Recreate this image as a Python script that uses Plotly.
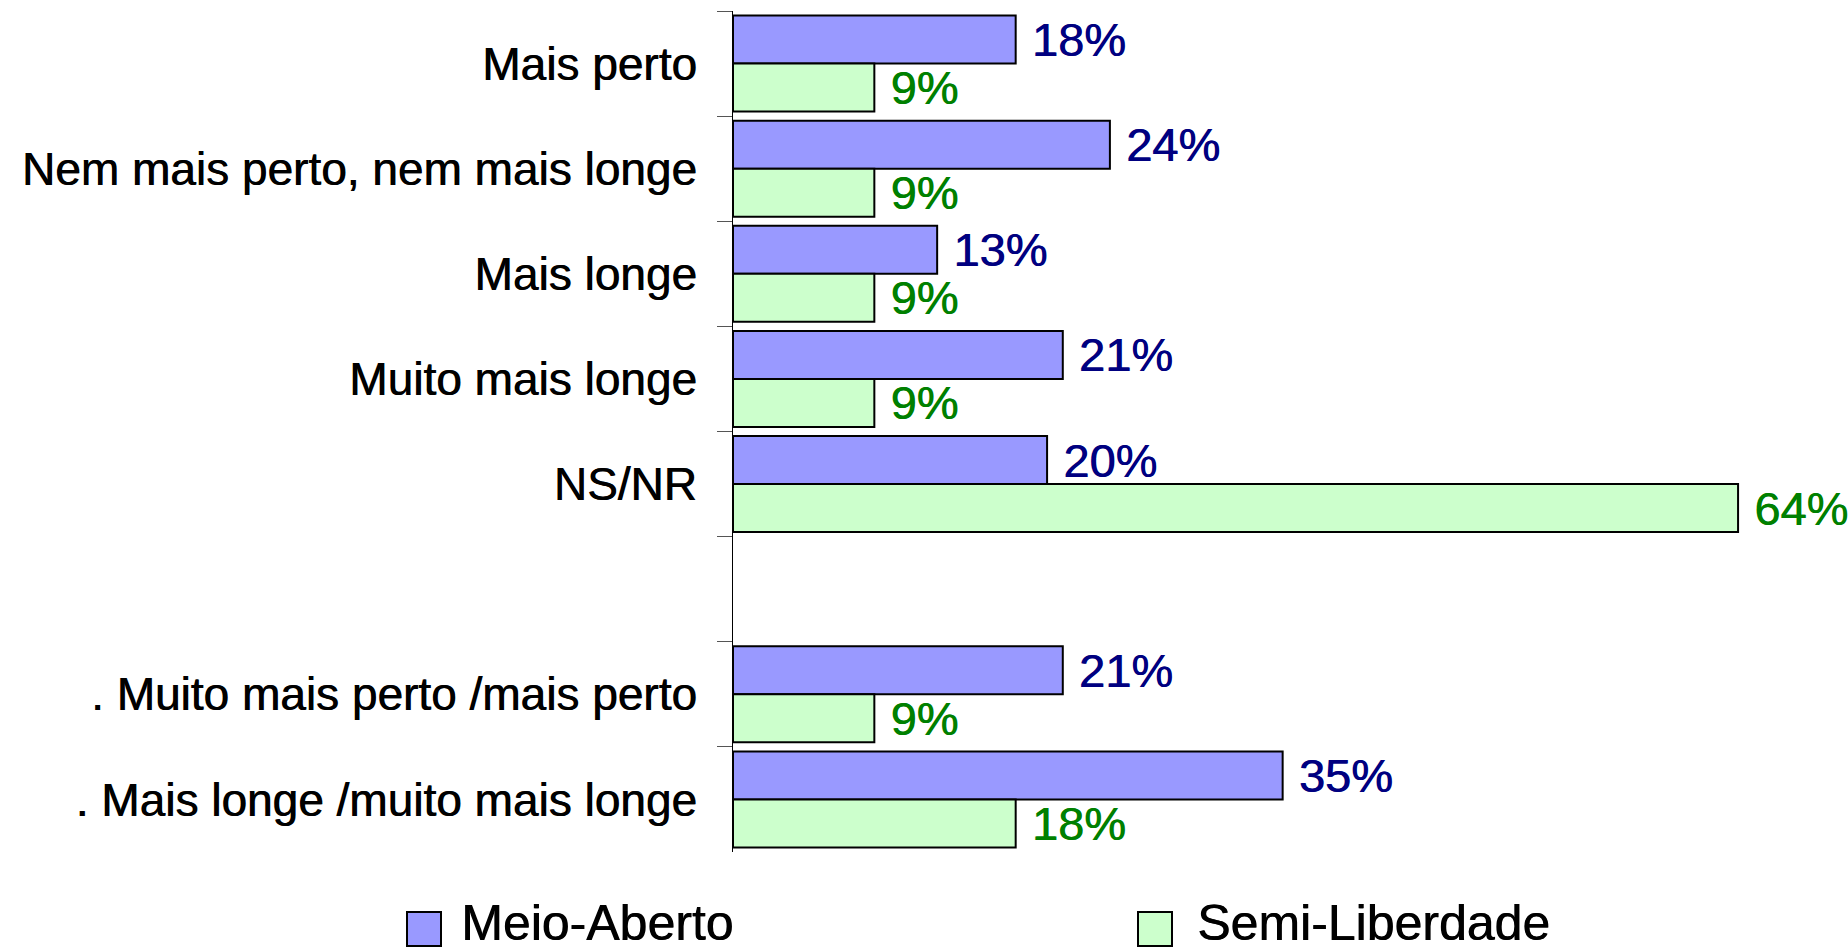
import plotly.graph_objects as go

# Categories (top to bottom); the blank entry separates the grouped totals
categories = [
    "Mais perto",
    "Nem mais perto, nem mais longe",
    "Mais longe",
    "Muito mais longe",
    "NS/NR",
    " ",
    ". Muito mais perto /mais perto",
    ". Mais longe /muito mais longe",
]
meio_aberto = [18, 24, 13, 21, 20, None, 21, 35]
semi_liberdade = [9, 9, 9, 9, 64, None, 9, 18]
series_names = ["Meio-Aberto", "Semi-Liberdade"]

W, H = 1848, 950
ML, MR, MT, MB = 733, 0, 11, 98
PW, PH = W - ML - MR, H - MT - MB

FONT = "Liberation Sans, Arial, sans-serif"
fills = ["#9999FF", "#CCFFCC"]
text_colors = ["#000080", "#008000"]


def labels(vals):
    return ["\u00a0" + f"{v}%" if v is not None else "" for v in vals]


def heavy(color):
    # slight horizontal shadow in the text colour gives a heavier stroke
    return f"0.7px 0px 0px {color}"


fig = go.Figure()
for name, vals, fc, tc in zip(series_names, [meio_aberto, semi_liberdade], fills, text_colors):
    fig.add_trace(go.Bar(
        name=name,
        y=categories,
        x=vals,
        orientation="h",
        marker=dict(color=fc, line=dict(color="black", width=2)),
        text=labels(vals),
        textposition="outside",
        textfont=dict(family=FONT, size=47, color=tc, shadow=heavy(tc)),
        constraintext="none",
        cliponaxis=False,
        showlegend=False,
        hoverinfo="skip",
    ))

# Legend drawn below the plot area with large square swatches
def px_to_paper_x(px):
    return (px - ML) / PW


def px_to_paper_y(py):
    return (H - MB - py) / PH


legend_items = [
    (series_names[0], fills[0], 407, 459),
    (series_names[1], fills[1], 1138, 1195),
]
for name, fc, box_x, text_x in legend_items:
    fig.add_shape(
        type="rect", xref="paper", yref="paper",
        x0=px_to_paper_x(box_x), x1=px_to_paper_x(box_x + 34),
        y0=px_to_paper_y(946), y1=px_to_paper_y(912),
        fillcolor=fc, line=dict(color="black", width=2),
    )
    fig.add_annotation(
        xref="paper", yref="paper",
        x=px_to_paper_x(text_x), y=px_to_paper_y(923),
        xanchor="left", yanchor="middle",
        text=name, showarrow=False,
        font=dict(family=FONT, size=50, color="black", shadow=heavy("black")),
    )

fig.update_layout(
    width=W, height=H,
    margin=dict(l=ML, r=MR, t=MT, b=MB, pad=0),
    barmode="group",
    bargap=0.086,
    bargroupgap=0,
    plot_bgcolor="white",
    paper_bgcolor="white",
    font=dict(family=FONT, color="black"),
)
fig.update_xaxes(
    range=[0, 71],
    visible=False,
    showgrid=False,
    zeroline=False,
)
fig.update_yaxes(
    type="category",
    categoryorder="array",
    categoryarray=categories,
    autorange="reversed",
    showline=True,
    linecolor="black",
    linewidth=1,
    ticks="outside",
    tickson="boundaries",
    ticklen=15,
    tickcolor="#555555",
    tickwidth=1,
    ticklabelstandoff=26,
    tickfont=dict(family=FONT, size=46, color="black", shadow=heavy("black")),
    showgrid=False,
    zeroline=False,
)

fig.write_html("out.html")
